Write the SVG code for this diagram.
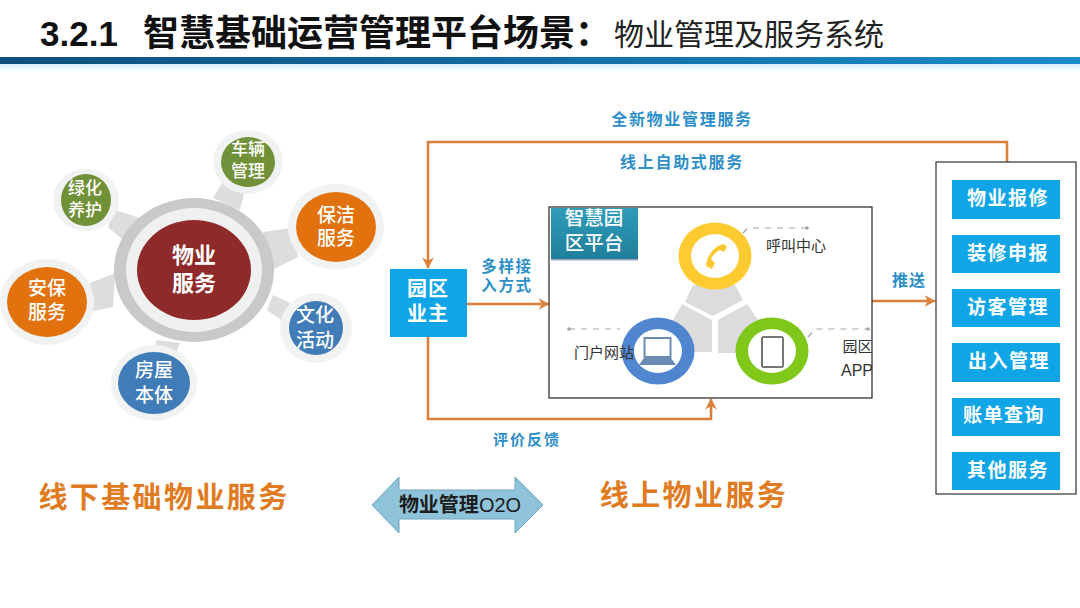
<svg xmlns="http://www.w3.org/2000/svg" width="1080" height="608" viewBox="0 0 1080 608">
<style>
text{font-family:"Noto Sans CJK SC","Liberation Sans",sans-serif;text-anchor:middle}
.halo{fill:#f1f2f2}
.spoke{fill:#dcdddd}
.w{fill:#fff;font-weight:500}
.lab{fill:#2f8fc9;font-weight:700;font-size:16px;letter-spacing:1.7px}
.big{fill:#e07b22;font-weight:700;font-size:29px;letter-spacing:2.4px}
.btn rect{fill:#0fa5e6}
.btn text{fill:#fff;font-weight:700;font-size:19px;letter-spacing:1.5px}
.pipe{fill:none;stroke:#d9803c;stroke-width:2.6}
.dash{fill:none;stroke:#a5a5a5;stroke-width:1.2;stroke-dasharray:6 6}
.dk{fill:#333;font-size:15px}
</style>
<defs>
<linearGradient id="bar" x1="0" x2="1" y1="0" y2="0"><stop offset="0" stop-color="#0c4f7c"/><stop offset="1" stop-color="#1a8bcb"/></linearGradient>
<linearGradient id="fade" x1="0" x2="0" y1="0" y2="1"><stop offset="0" stop-color="#d6eefa"/><stop offset="1" stop-color="#fff"/></linearGradient>
<linearGradient id="badge" x1="0" x2="0" y1="0" y2="1"><stop offset="0" stop-color="#2f9cb8"/><stop offset="1" stop-color="#1f7f9c"/></linearGradient>
<marker id="ah" viewBox="0 0 10 10" refX="9" refY="5" markerWidth="13" markerHeight="13" markerUnits="userSpaceOnUse" orient="auto"><path d="M1 0.500 L9.500 5 L1 9.500 L3.500 5 Z" fill="#d9803c"/></marker>
<filter id="soft" x="-5%" y="-5%" width="110%" height="110%"><feGaussianBlur stdDeviation="0.6"/></filter>
</defs>
<rect width="1080" height="608" fill="#fff"/>
<g id="header">
<rect x="0" y="64" width="1080" height="8" fill="url(#fade)"/>
<rect x="0" y="57" width="1080" height="7" fill="url(#bar)"/>
<text x="40" y="46" style="text-anchor:start;font-weight:700;font-size:35px;font-family:'Liberation Sans',sans-serif" fill="#111">3.2.1</text>
<text x="143" y="46" style="text-anchor:start;font-weight:700;font-size:36px" fill="#111">智慧基础运营管理平台场景：</text>
<text x="614" y="45" style="text-anchor:start;font-weight:400;font-size:30px" fill="#222">物业管理及服务系统</text>
</g>
<g id="hub-spokes" filter="url(#soft)">
<polygon class="spoke" points="213,198 240,210 245,190 222,183"/>
<polygon class="spoke" points="115,210 140,218 123,240 108,227"/>
<polygon class="spoke" points="263,232 292,228 298,257 272,270"/>
<polygon class="spoke" points="90,283 115,273 113,307 93,311"/>
<polygon class="spoke" points="273,295 290,303 281,320 267,310"/>
<polygon class="spoke" points="157,340 180,343 175,356 152,354"/>
</g>
<g id="node-hub" filter="url(#soft)">
<ellipse cx="194" cy="270" rx="80" ry="72" fill="#c8caca"/>
<ellipse cx="194" cy="270" rx="68" ry="62" fill="#eff0f0"/>
<ellipse cx="194" cy="270" rx="57" ry="50" fill="#8f2a2c"/>
</g>
<text class="w" font-size="22" style="font-weight:700"><tspan x="194" y="263">物业</tspan><tspan x="194" y="291">服务</tspan></text>
<g id="node-car"><g filter="url(#soft)"><ellipse class="halo" cx="248" cy="162" rx="35" ry="32"/><ellipse cx="248" cy="162" rx="27" ry="25" fill="#6f9139"/></g>
<text class="w" font-size="17"><tspan x="248" y="155">车辆</tspan><tspan x="248" y="177">管理</tspan></text></g>
<g id="node-green"><g filter="url(#soft)"><ellipse class="halo" cx="86" cy="200" rx="33" ry="31"/><ellipse cx="86" cy="200" rx="25" ry="26" fill="#6f9139"/></g>
<text class="w" font-size="17"><tspan x="85" y="194">绿化</tspan><tspan x="85" y="216">养护</tspan></text></g>
<g id="node-clean"><g filter="url(#soft)"><ellipse class="halo" cx="336" cy="227" rx="48" ry="43"/><ellipse cx="336" cy="227" rx="40" ry="35" fill="#e2720f"/></g>
<text class="w" font-size="19"><tspan x="336" y="222">保洁</tspan><tspan x="336" y="245">服务</tspan></text></g>
<g id="node-security"><g filter="url(#soft)"><ellipse class="halo" cx="47" cy="302" rx="47" ry="43"/><ellipse cx="47" cy="302" rx="40" ry="35" fill="#e2720f"/></g>
<text class="w" font-size="19"><tspan x="47" y="295">安保</tspan><tspan x="47" y="319">服务</tspan></text></g>
<g id="node-culture"><g filter="url(#soft)"><ellipse class="halo" cx="316" cy="328" rx="36" ry="35"/><ellipse cx="316" cy="328" rx="27" ry="27" fill="#3f7bb8"/></g>
<text class="w" font-size="19"><tspan x="315" y="322">文化</tspan><tspan x="315" y="347">活动</tspan></text></g>
<g id="node-house"><g filter="url(#soft)"><ellipse class="halo" cx="154" cy="383" rx="43" ry="38"/><ellipse cx="154" cy="383" rx="36" ry="31" fill="#3f7bb8"/></g>
<text class="w" font-size="19"><tspan x="154" y="377">房屋</tspan><tspan x="154" y="402">本体</tspan></text></g>

<g id="connectors">
<path class="pipe" d="M1007 162V142H428V268" marker-end="url(#ah)"/>
<path class="pipe" d="M467 304H549" marker-end="url(#ah)"/>
<path class="pipe" d="M428 337V419H711V399" marker-end="url(#ah)"/>
<path class="pipe" d="M872 301H935" marker-end="url(#ah)"/>
</g>
<text x="682" y="125" class="lab">全新物业管理服务</text>
<text x="682" y="168" class="lab">线上自助式服务</text>
<text class="lab" style="font-size:15.500px"><tspan x="507" y="272">多样接</tspan><tspan x="507" y="291">入方式</tspan></text>
<text x="527" y="445" class="lab" style="font-size:15px;letter-spacing:2px">评价反馈</text>
<text x="909" y="286" class="lab" style="letter-spacing:1px">推送</text>

<g id="node-owner"><rect x="390" y="269" width="77" height="68" fill="#0fa5e6"/>
<text class="w" font-size="20" style="font-weight:700;letter-spacing:1px"><tspan x="428" y="296">园区</tspan><tspan x="428" y="321">业主</tspan></text></g>

<g id="node-platform">
<rect x="549" y="207" width="323" height="191" fill="#fff" stroke="#222" stroke-width="1.200"/>
<rect x="551" y="208" width="87" height="51" fill="url(#badge)"/>
<rect x="551" y="259" width="87" height="1.500" fill="#9ab"/>
<text class="w" font-size="19.500"><tspan x="594" y="225">智慧园</tspan><tspan x="594" y="250">区平台</tspan></text>
<polygon points="693,285 735,285 743,300 713,316 685,302" fill="#dcdcdc"/>
<polygon points="682,304 712,320 712,352 695,352 673,320" fill="#dcdcdc"/>
<polygon points="747,304 718,320 718,353 737,353 758,320" fill="#dcdcdc"/>
<ellipse cx="715" cy="256" rx="36.500" ry="33.500" fill="#fecb30"/>
<ellipse cx="715" cy="256" rx="24" ry="22" fill="#fff"/>
<path d="M724 244C716 245 707 254 706 266L712 269L715 263L711 259C713 255 716 252 720 250L724 252L727 247Z" fill="#fdc82f"/>
<ellipse cx="658" cy="351" rx="36.500" ry="33.500" fill="#4f86cf"/>
<ellipse cx="658" cy="351" rx="24" ry="22" fill="#fff"/>
<rect x="644.500" y="338" width="26" height="19" fill="#fff" stroke="#6b8bb5" stroke-width="2"/>
<polygon points="644,358 671,358 676,365 639,365" fill="#6b8bb5"/>
<ellipse cx="772" cy="351" rx="36.500" ry="33.500" fill="#7fc81a"/>
<ellipse cx="772" cy="351" rx="24" ry="22" fill="#fff"/>
<rect x="762" y="337" width="21" height="30" rx="1.500" fill="#fff" stroke="#777" stroke-width="2"/>
<path class="dash" d="M743 233L748 228H807"/>
<path class="dash" d="M569 329H620"/>
<path class="dash" d="M808 337L815 329H870"/>
<circle cx="807" cy="228" r="1.800" fill="#a5a5a5"/><circle cx="569" cy="329" r="1.800" fill="#a5a5a5"/><circle cx="868" cy="329" r="1.800" fill="#a5a5a5"/>
<text x="796" y="251" class="dk">呼叫中心</text>
<text x="604" y="358" class="dk">门户网站</text>
<text x="857.500" y="352" class="dk">园区</text>
<text x="857" y="376" class="dk" style="font-family:'Liberation Sans',sans-serif;font-size:16px">APP</text>
</g>

<g id="node-services">
<rect x="936" y="162" width="140" height="332" fill="#fff" stroke="#333" stroke-width="1.200"/>
<g class="btn"><rect x="952" y="180" width="108" height="39"/><text x="1008" y="205">物业报修</text></g>
<g class="btn"><rect x="952" y="235" width="108" height="38"/><text x="1008" y="260">装修申报</text></g>
<g class="btn"><rect x="952" y="289" width="108" height="38"/><text x="1008" y="314">访客管理</text></g>
<g class="btn"><rect x="952" y="343" width="108" height="39"/><text x="1009" y="368">出入管理</text></g>
<g class="btn"><rect x="952" y="398" width="108" height="38"/><text x="1004" y="422">账单查询</text></g>
<g class="btn"><rect x="952" y="452" width="108" height="38"/><text x="1008" y="477">其他服务</text></g>
</g>

<text x="164" y="508" class="big">线下基础物业服务</text>
<text x="694" y="506" class="big">线上物业服务</text>
<g id="node-o2o">
<polygon points="372,505 399,477 399,490 515,490 515,477 543,505 515,533 515,519 399,519 399,533" fill="#8fc3da" stroke="#6fa5c0" stroke-width="1"/>
<text x="460" y="512" font-size="20" style="font-weight:700" fill="#1c1c1c">物业管理<tspan style="font-family:'Liberation Sans',sans-serif;font-weight:400">O2O</tspan></text>
</g>
</svg>
